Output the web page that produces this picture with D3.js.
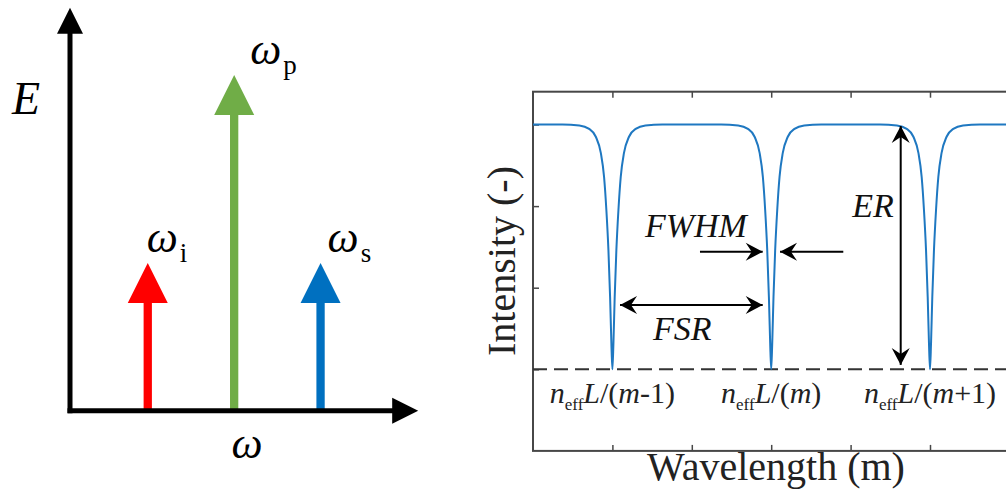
<!DOCTYPE html>
<html>
<head>
<meta charset="utf-8">
<script src="https://cdn.jsdelivr.net/npm/d3@7"></script>
<style>
  body { margin: 0; background: #fff; }
  svg { display: block; }
  text, tspan { font-family: "Liberation Serif", "DejaVu Serif", serif; }
</style>
</head>
<body>
<script>
// left panel: photon energies (idler, pump, signal)
const photonNames = ["i", "p", "s"];
const photonOmega = [0.9, 1.9, 2.9];
const photonEnergy = [0.44, 1, 0.44];
const photonColors = ["#ff0000", "#70ad47", "#0070c0"];

// right panel: ring transmission, dips at three resonances
const resonancePos = [1, 3, 5];
const resonanceOrder = [["m", "-1"], ["m", ""], ["m", "+1"]];
// one dip: offset from centre (x units) vs intensity
const dipOffset = [0, 0.013, 0.029, 0.05, 0.076, 0.105, 0.146, 0.209, 0.293, 0.416, 0.63];
const dipIntensity = [0, 0.107, 0.296, 0.487, 0.651, 0.786, 0.884, 0.95, 0.982, 0.996, 1];
const xTicks = [1, 2, 3, 4, 5];
const yTicks = [0, 1 / 3, 2 / 3, 1];

const W = 1006, H = 493;
const svg = d3.select("body").append("svg")
  .attr("width", W)
  .attr("height", H);

// ---------- left panel ----------
const wScale = d3.scaleLinear().domain([0, 4]).range([70, 70 + 4 * 86.4]);
const eScale = d3.scaleLinear().domain([0, 1]).range([410.7, 75]);

const left = svg.append("g");
const photons = photonNames.map((n, i) => ({ name: n, w: photonOmega[i], e: photonEnergy[i], color: photonColors[i] }));

// shafts
left.selectAll("line.shaft")
  .data(photons)
  .enter()
  .append("line")
    .attr("class", "shaft")
    .attr("x1", d => wScale(d.w))
    .attr("x2", d => wScale(d.w))
    .attr("y1", eScale(0))
    .attr("y2", d => eScale(d.e) + 38)
    .attr("stroke", d => d.color)
    .attr("stroke-width", 8.3);

// heads
const head = 40;
left.selectAll("path.head")
  .data(photons)
  .enter()
  .append("path")
    .attr("class", "head")
    .attr("d", d => {
      const x = wScale(d.w), y = eScale(d.e);
      return `M${x},${y} L${x + head / 2},${y + head} L${x - head / 2},${y + head} Z`;
    })
    .attr("fill", d => d.color);

// axes with arrow tips
const axHead = 26;
const x0 = wScale(0), y0 = eScale(0);
const yTip = eScale(1.2), xTip = wScale(4.03);
left.append("line")
  .attr("x1", x0).attr("x2", x0)
  .attr("y1", y0 + 2.5).attr("y2", yTip + axHead - 2)
  .attr("stroke", "#000").attr("stroke-width", 5);
left.append("line")
  .attr("x1", x0 - 2.5).attr("x2", xTip - axHead + 2)
  .attr("y1", y0).attr("y2", y0)
  .attr("stroke", "#000").attr("stroke-width", 5);
left.append("path")
  .attr("d", `M${x0},${yTip} L${x0 + axHead / 2},${yTip + axHead} L${x0 - axHead / 2},${yTip + axHead} Z`)
  .attr("fill", "#000");
left.append("path")
  .attr("d", `M${xTip},${y0} L${xTip - axHead},${y0 - axHead / 2} L${xTip - axHead},${y0 + axHead / 2} Z`)
  .attr("fill", "#000");

left.append("text")
  .attr("x", 12).attr("y", 114)
  .attr("font-size", 46).attr("font-style", "italic")
  .text("E");
left.append("text")
  .attr("x", wScale(2.05)).attr("y", 458)
  .attr("text-anchor", "middle")
  .attr("font-size", 44).attr("font-style", "italic")
  .text("ω");

const labelShift = { i: -1, p: 16, s: 7 };
const lab = left.selectAll("text.wlab")
  .data(photons)
  .enter()
  .append("text")
    .attr("class", "wlab")
    .attr("x", d => wScale(d.w) + labelShift[d.name])
    .attr("y", d => eScale(d.e) - 11)
    .attr("font-size", 44);
lab.append("tspan").attr("font-style", "italic").text("ω");
lab.append("tspan").attr("font-size", 27).attr("dx", 2).attr("dy", 10).text(d => d.name);

// ---------- right panel ----------
const xScale = d3.scaleLinear().domain([0, 6]).range([533, 533 + 6 * 79.4]);
const yScale = d3.scaleLinear().domain([-1 / 3, 1.134]).range([450.9, 91.7]);
const right = svg.append("g");

const boxColor = "#474747";
right.append("rect")
  .attr("x", xScale(0)).attr("y", yScale(1.134))
  .attr("width", xScale(6) - xScale(0))
  .attr("height", yScale(-1 / 3) - yScale(1.134))
  .attr("fill", "none").attr("stroke", boxColor).attr("stroke-width", 2);

const axT = right.append("g")
  .attr("transform", `translate(0,${yScale(1.134)})`)
  .call(d3.axisTop(xScale).tickValues(xTicks).tickSize(-6).tickFormat(""));
const axB = right.append("g")
  .attr("transform", `translate(0,${yScale(-1 / 3)})`)
  .call(d3.axisBottom(xScale).tickValues(xTicks).tickSize(-6).tickFormat(""));
const axL = right.append("g")
  .attr("transform", `translate(${xScale(0)},0)`)
  .call(d3.axisLeft(yScale).tickValues(yTicks).tickSize(-6).tickFormat(""));
[axT, axB, axL].forEach(g => {
  g.select(".domain").remove();
  g.selectAll(".tick line").attr("stroke", boxColor).attr("stroke-width", 1.5);
});

// dashed baseline at zero intensity
right.append("line")
  .attr("x1", xScale(0)).attr("x2", xScale(6))
  .attr("y1", yScale(0)).attr("y2", yScale(0))
  .attr("stroke", "#333").attr("stroke-width", 2)
  .attr("stroke-dasharray", "14,7");

// build spectrum from the read dip profile
const spectrum = [{ x: 0, y: 1 }];
resonancePos.forEach(c => {
  for (let k = dipOffset.length - 1; k > 0; k--) spectrum.push({ x: c - dipOffset[k], y: dipIntensity[k] });
  spectrum.push({ x: c, y: dipIntensity[0] });
  for (let k = 1; k < dipOffset.length; k++) spectrum.push({ x: c + dipOffset[k], y: dipIntensity[k] });
});
spectrum.push({ x: 6, y: 1 });

right.append("path")
  .datum(spectrum)
  .attr("fill", "none")
  .attr("stroke", "#1f78c1")
  .attr("stroke-width", 2)
  .attr("d", d3.line().x(d => xScale(d.x)).y(d => yScale(d.y)).curve(d3.curveMonotoneX));

// arrow marker
svg.append("defs").append("marker")
  .attr("id", "ah")
  .attr("viewBox", "-18 -10 20 20")
  .attr("refX", 0).attr("refY", 0)
  .attr("markerUnits", "userSpaceOnUse")
  .attr("markerWidth", 20).attr("markerHeight", 20)
  .attr("orient", "auto-start-reverse")
  .append("path")
    .attr("d", "M0,0 L-17,-9 L-11,0 L-17,9 Z")
    .attr("fill", "#000");

function arrow(xa, ya, xb, yb, both) {
  const l = right.append("line")
    .attr("x1", xScale(xa)).attr("y1", yScale(ya))
    .attr("x2", xScale(xb)).attr("y2", yScale(yb))
    .attr("stroke", "#000").attr("stroke-width", 2)
    .attr("marker-end", "url(#ah)");
  if (both) l.attr("marker-start", "url(#ah)");
}
arrow(2.103, 0.48, 2.893, 0.48, false);   // FWHM in
arrow(3.908, 0.48, 3.111, 0.48, false);
arrow(1.096, 0.263, 2.893, 0.263, true);  // FSR
arrow(4.631, 0.994, 4.631, 0.018, true);  // ER

const ann = [["FWHM", 1.41, 0.542], ["FSR", 1.51, 0.12], ["ER", 4.02, 0.623]];
right.selectAll("text.ann")
  .data(ann)
  .enter()
  .append("text")
    .attr("class", "ann")
    .attr("x", d => xScale(d[1]))
    .attr("y", d => yScale(d[2]))
    .attr("font-size", 34).attr("font-style", "italic")
    .attr("fill", "#111")
    .text(d => d[0]);

// resonance labels  n_eff L/(m..)
const rl = right.selectAll("text.res")
  .data(resonancePos.map((p, i) => ({ p, o: resonanceOrder[i] })))
  .enter()
  .append("text")
    .attr("class", "res")
    .attr("x", d => xScale(d.p))
    .attr("y", 403)
    .attr("text-anchor", "middle")
    .attr("font-size", 30)
    .attr("fill", "#222");
rl.append("tspan").attr("font-style", "italic").text("n");
rl.append("tspan").attr("font-size", 17).attr("dy", 7).text("eff");
rl.append("tspan").attr("font-style", "italic").attr("dy", -7).text("L");
rl.append("tspan").text("/(");
rl.append("tspan").attr("font-style", "italic").text(d => d.o[0]);
rl.append("tspan").text(d => d.o[1] + ")");

right.append("text")
  .attr("x", 776).attr("y", 480)
  .attr("text-anchor", "middle")
  .attr("font-size", 40).attr("fill", "#222")
  .text("Wavelength (m)");
right.append("text")
  .attr("transform", "translate(515,261) rotate(-90)")
  .attr("text-anchor", "middle")
  .attr("font-size", 40).attr("fill", "#222")
  .text("Intensity (-)");
</script>
</body>
</html>
